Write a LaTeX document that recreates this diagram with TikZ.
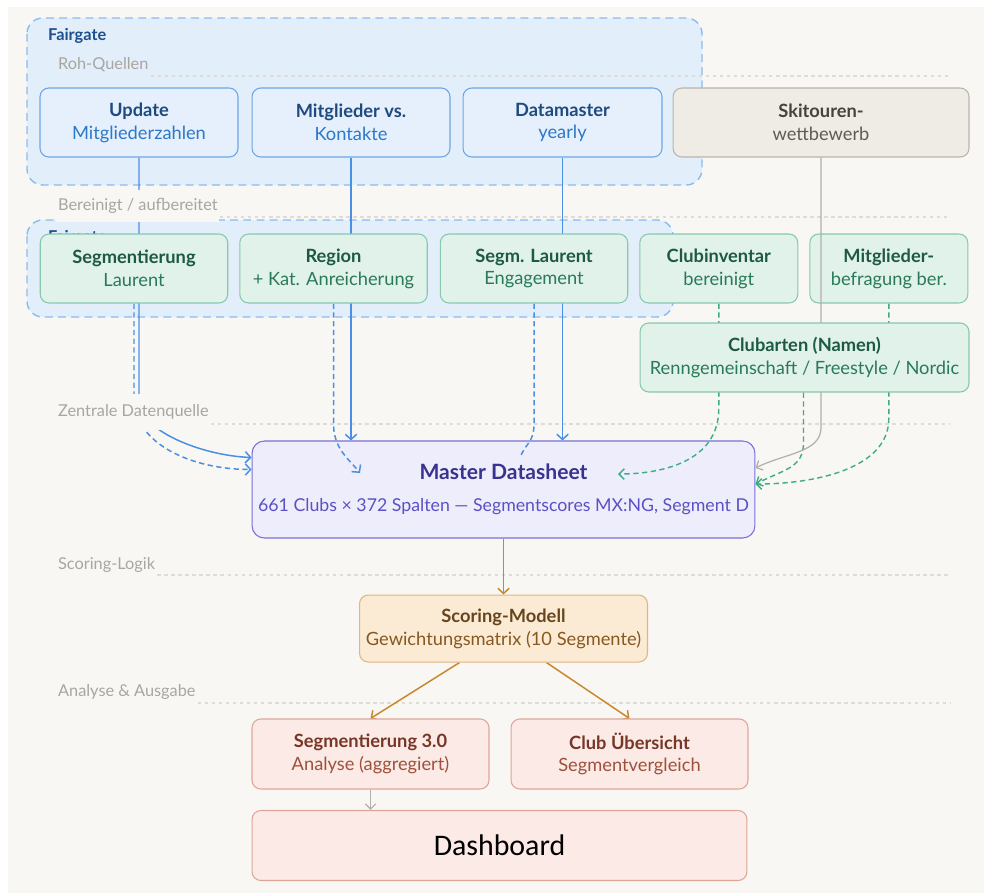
\documentclass[tikz,border=0pt]{standalone}
\usepackage{fontspec}
\setmainfont{Lato}
\newfontfamily\dashfont{Carlito}
\usetikzlibrary{arrows.meta,positioning}

\definecolor{papier}{HTML}{F8F7F4}
\definecolor{gruppe}{HTML}{E3EEFB}
\definecolor{grupperand}{HTML}{8CBBEE}
\definecolor{gruppetitel}{HTML}{1D4F91}
\definecolor{ebenegrau}{HTML}{A9A6A1}
\definecolor{trenngrau}{HTML}{DEDCD7}
\definecolor{qfill}{HTML}{E5F0FC}
\definecolor{qrand}{HTML}{6EA6E3}
\definecolor{qtitel}{HTML}{1F4A7F}
\definecolor{qsub}{HTML}{2B78C9}
\definecolor{bfill}{HTML}{E0F2EA}
\definecolor{brand}{HTML}{88C8AC}
\definecolor{btitel}{HTML}{1E5A43}
\definecolor{bsub}{HTML}{2A7A59}
\definecolor{xfill}{HTML}{EFECE6}
\definecolor{xrand}{HTML}{B9B4AC}
\definecolor{xtitel}{HTML}{46433E}
\definecolor{xsub}{HTML}{5F5B55}
\definecolor{mfill}{HTML}{EEEDFC}
\definecolor{mrand}{HTML}{7C70D2}
\definecolor{mtitel}{HTML}{3A3290}
\definecolor{msub}{HTML}{5B50C4}
\definecolor{sfill}{HTML}{FBEBD4}
\definecolor{srand}{HTML}{E0B67C}
\definecolor{stitel}{HTML}{66441C}
\definecolor{ssub}{HTML}{87581F}
\definecolor{afill}{HTML}{FBEAE5}
\definecolor{arand}{HTML}{DFA597}
\definecolor{atitel}{HTML}{773626}
\definecolor{asub}{HTML}{A0503B}
\definecolor{blau}{HTML}{4A90E2}
\definecolor{gruen}{HTML}{3EAD84}
\definecolor{liniengrau}{HTML}{B3AFA9}
\definecolor{ocker}{HTML}{C8892D}

\pgfdeclarelayer{hinten}
\pgfdeclarelayer{mitte}
\pgfdeclarelayer{linien}
\pgfsetlayers{hinten,mitte,linien,main}

\begin{document}
\begin{tikzpicture}[
  x=0.02cm, y=-0.02cm,
  every node/.style={align=center, inner sep=1pt},
  box/.style={rectangle, draw, rounded corners=5pt, line width=0.6pt, font=\fontsize{10.4}{13}\selectfont},
  quelle/.style={box, fill=qfill, draw=qrand, text=qtitel, minimum width=3.96cm, minimum height=1.38cm},
  extern/.style={box, fill=xfill, draw=xrand, text=xtitel, minimum width=5.92cm, minimum height=1.38cm},
  bereinigt/.style={box, fill=bfill, draw=brand, text=btitel, minimum width=3.75cm, minimum height=1.38cm},
  master/.style={box, fill=mfill, draw=mrand, text=mtitel, minimum width=10.06cm, minimum height=1.94cm, rounded corners=7pt},
  scoring/.style={box, fill=sfill, draw=srand, text=stitel, minimum width=5.76cm, minimum height=1.34cm},
  ausgabe/.style={box, fill=afill, draw=arand, text=atitel, minimum width=4.74cm, minimum height=1.4cm},
  gruppenname/.style={anchor=west, text=gruppetitel, font=\fontsize{9.3}{11}\selectfont\bfseries},
  gruppenrahmen/.style={draw=grupperand, fill=gruppe, line width=0.8pt, dash pattern=on 4.5pt off 3pt, rounded corners=9pt},
  ebene/.style={anchor=west, text=ebenegrau, font=\fontsize{9.3}{11}\selectfont},
  trenn/.style={draw=trenngrau, line width=0.6pt, dash pattern=on 2pt off 2pt},
  gestrichelt/.style={dash pattern=on 3pt off 2pt},
  zufluss/.style={draw=blau, line width=0.85pt, -{Straight Barb[length=3pt,width=6.5pt]}},
  nebenfluss/.style={draw=gruen, line width=0.8pt, gestrichelt, -{Straight Barb[length=3pt,width=6pt]}},
  grauerfluss/.style={draw=liniengrau, line width=0.7pt, -{Straight Barb[length=3pt,width=6pt]}},
  ausfluss/.style={draw=ocker, line width=0.85pt, -{Straight Barb[length=3pt,width=6.5pt]}}
]
\useasboundingbox (0,0) rectangle (984,893);

% Hintergrund und Gruppen
\begin{pgfonlayer}{hinten}
\fill[white] (0,0) rectangle (984,893);
\fill[papier] (8,7) rectangle (984,893);
\draw[gruppenrahmen] (27,18) rectangle (702,185);
\draw[gruppenrahmen] (27,220) rectangle (673,317);
\node[gruppenname] (fairgatezwei) at (46,238) {Fairgate};
\end{pgfonlayer}
\node[gruppenname] (fairgate) at (46,36) {Fairgate};

% Ebenen
\node[ebene] (rohq) at (56,65) {Roh-Quellen};
\node[ebene, fill=papier, inner ysep=5pt] (bereinigtlabel) at (56,206) {Bereinigt / aufbereitet};
\node[ebene, fill=papier, inner ysep=6pt] (zentral) at (56,412) {Zentrale Datenquelle};
\node[ebene] (scoringlabel) at (56,565) {Scoring-Logik};
\node[ebene] (analyse) at (56,692) {Analyse \& Ausgabe};

\begin{pgfonlayer}{hinten}
\draw[trenn] (rohq.east) ++(0,11) -- (950,76);
\draw[trenn] (bereinigtlabel.east) ++(0,11) -- (950,217);
\draw[trenn] (zentral.east) ++(0,12) -- (950,424);
\draw[trenn] (scoringlabel.east) ++(0,10) -- (950,575);
\draw[trenn] (analyse.east) ++(0,11) -- (950,703);
\end{pgfonlayer}

% Roh-Quellen
\node[quelle] (update) at (139,122.5) {\textbf{Update}\\\textcolor{qsub}{Mitgliederzahlen}};
\node[quelle, right=0.26cm of update] (mitglieder) {\textbf{Mitglieder vs.}\\\textcolor{qsub}{Kontakte}};
\node[quelle, right=0.24cm of mitglieder, minimum width=3.98cm] (datamaster) {\textbf{Datamaster}\\\textcolor{qsub}{yearly}};
\node[extern, right=0.2cm of datamaster] (skitouren) {\textbf{Skitouren-}\\\textcolor{xsub}{wettbewerb}};

% Bereinigt
\node[bereinigt] (segm) at (134,268.5) {\textbf{Segmentierung}\\\textcolor{bsub}{Laurent}};
\node[bereinigt, right=0.22cm of segm] (region) {\textbf{Region}\\\textcolor{bsub}{+ Kat. Anreicherung}};
\node[bereinigt, right=0.24cm of region] (segml) {\textbf{Segm. Laurent}\\\textcolor{bsub}{Engagement}};
\node[bereinigt, right=0.22cm of segml, minimum width=3.16cm] (clubinv) {\textbf{Clubinventar}\\\textcolor{bsub}{bereinigt}};
\node[bereinigt, right=0.22cm of clubinv, minimum width=3.16cm] (mitglbef) {\textbf{Mitglieder-}\\\textcolor{bsub}{befragung ber.}};

% Zentrale Datenquelle
\begin{pgfonlayer}{mitte}
\node[master] (master) at (503.5,489.5) {{\fontsize{12}{14}\selectfont\textbf{Master Datasheet}}\\[5pt]{\fontsize{10.1}{12}\selectfont\textcolor{msub}{661 Clubs × 372 Spalten — Segmentscores MX:NG, Segment D}}};
\end{pgfonlayer}

\draw[grauerfluss] (skitouren.south) -- ++(0,270) .. controls +(0,25) and +(30,-15) .. ([yshift=0.43cm]master.east);

\node[bereinigt, minimum width=6.58cm] (clubarten) at (804.5,357.5) {\textbf{Clubarten (Namen)}\\\textcolor{bsub}{Renngemeinschaft / Freestyle / Nordic}};

% Scoring und Ausgabe
\node[scoring, below=1.12cm of master] (scoring) {\textbf{Scoring-Modell}\\\textcolor{ssub}{Gewichtungsmatrix (10 Segmente)}};
\node[ausgabe] (seg3) at (370.5,754) {\textbf{Segmentierung 3.0}\\\textcolor{asub}{Analyse (aggregiert)}};
\node[ausgabe, right=0.42cm of seg3] (clubue) {\textbf{Club Übersicht}\\\textcolor{asub}{Segmentvergleich}};
\node[ausgabe, minimum width=9.9cm, text=black, font=\dashfont\fontsize{17}{20}\selectfont] (dashboard) at (499.5,845.5) {Dashboard};

\coordinate (regionziel) at (360,473);
\coordinate (segmlziel) at (520,458);
\coordinate (clubinvziel) at (618,474);

% Verbindungen
\begin{pgfonlayer}{linien}
\draw[zufluss] (update.south) -- ++(0,243) .. controls +(0,30) and +(-50,-2) .. ([yshift=0.64cm]master.west);
\draw[zufluss, gestrichelt] (segm.south) -- ++(0,95) .. controls +(0,45) and +(-60,0) .. ([yshift=0.4cm]master.west);
\draw[zufluss] (mitglieder.south) -- (mitglieder.south |- master.north);
\draw[zufluss, gestrichelt] (region.south) -- ++(0,120) .. controls +(0,25) and +(-12,-15) .. (regionziel);
\draw[zufluss] (datamaster.south) -- (datamaster.south |- master.north);
\draw[draw=blau, line width=0.85pt, gestrichelt] (segml.south) -- ++(0,120) .. controls +(0,20) and +(5,-15) .. (segmlziel);
\draw[nebenfluss] (clubinv.south) -- ++(0,105) .. controls +(0,55) and +(40,0) .. (clubinvziel);
\draw[nebenfluss] ([xshift=-0.02cm]clubarten.south) -- ++(0,50) .. controls +(0,25) and +(30,-15) .. ([yshift=0.11cm]master.east);
\draw[nebenfluss] (mitglbef.south) -- ++(0,115) .. controls +(0,50) and +(60,0) .. ([yshift=0.11cm]master.east);

\draw[ausfluss] (master.south) -- (scoring.north);
\draw[ausfluss] ([xshift=-0.88cm]scoring.south) -- (seg3.north);
\draw[ausfluss] ([xshift=0.86cm]scoring.south) -- (clubue.north);
\draw[grauerfluss] (seg3.south) -- (seg3.south |- dashboard.north);
\end{pgfonlayer}

\end{tikzpicture}
\end{document}
